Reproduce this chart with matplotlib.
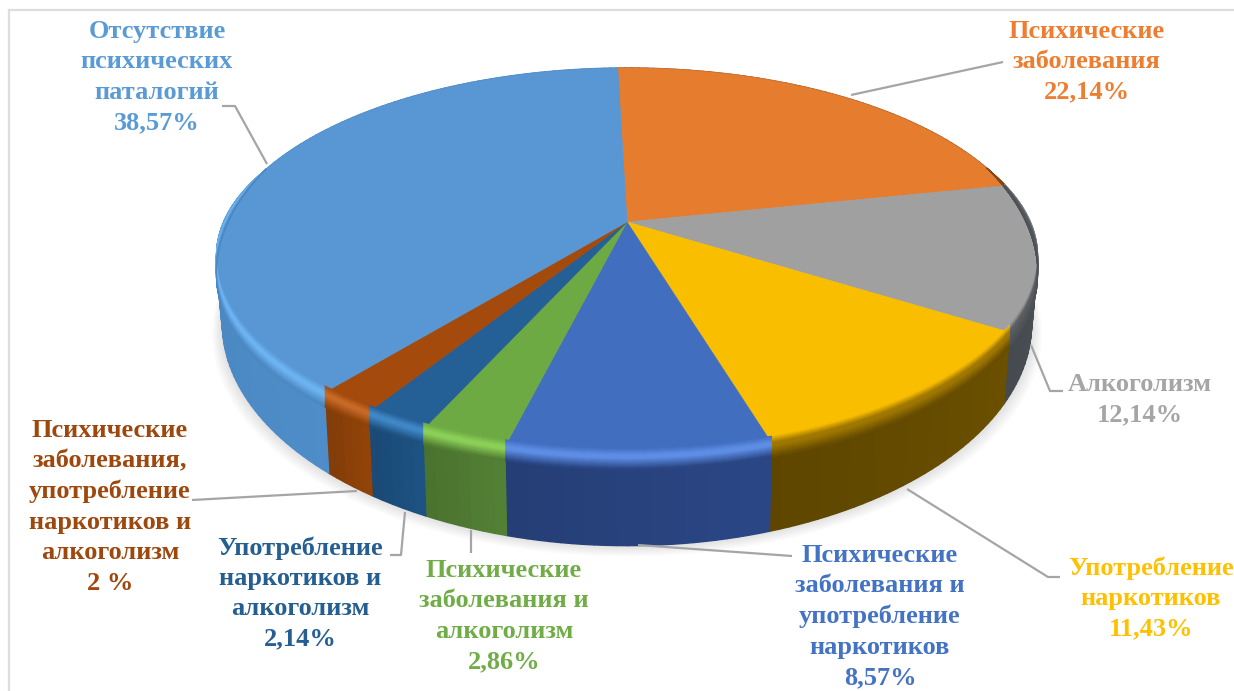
import numpy as np
import matplotlib
matplotlib.use("Agg")
import matplotlib.pyplot as plt
from matplotlib.collections import PolyCollection
from matplotlib.colors import to_rgb

# clockwise from 12 o'clock
values = [22.14, 12.14, 11.43, 8.57, 2.86, 2.14, 2.0, 38.57]
names = ["Психические\nзаболевания", "Алкоголизм", "Употребление\nнаркотиков",
         "Психические\nзаболевания и\nупотребление\nнаркотиков",
         "Психические\nзаболевания и\nалкоголизм",
         "Употребление\nнаркотиков и\nалкоголизм",
         "Психические\nзаболевания,\nупотребление\nнаркотиков и\nалкоголизм",
         "Отсутствие\nпсихических\nпаталогий"]
pct_labels = ["22,14%", "12,14%", "11,43%", "8,57%", "2,86%", "2,14%", "2 %", "38,57%"]

top_colors = ["#E67C2E", "#A0A0A0", "#FABE00", "#426EC0", "#6DAA44", "#245F96", "#A34A0C", "#5896D4"]
wall_colors = ["#8A4A1C", "#4C5157", "#664C00", "#28437F", "#4F7A32", "#1C4E7C", "#8A4008", "#4A86BF"]
rim_colors = ["#6A4020", "#5A5C60", "#A07800", "#5E8EE6", "#8CD058", "#4088C8", "#C86A28", "#6EB4F2"]
text_colors = ["#ED7D31", "#A5A5A5", "#FFC000", "#4472C4", "#70AD47", "#255E91", "#9E480E", "#5B9BD5"]

# label centre (x, y of first line) in pixels
label_pos = [(1087, 20), (1140, 373), (1151, 556), (880, 544), (504, 559), (300, 536), (110, 419), (157, 20)]
leaders = [
    [(851, 95), (1003, 62)],
    [(1031, 345), (1050, 391), (1063, 391)],
    [(907, 489), (1048, 577), (1060, 577)],
    [(638, 545), (792, 556)],
    [(471, 530), (471, 553)],
    [(405, 512), (401, 555), (390, 555)],
    [(357, 491), (192, 500)],
    [(267, 164), (235, 106), (222, 106)],
]

CX, CY = 627, 222
A, B, K = 402, 185.6, 0.205
START = -1.6


def rim(theta, r=1.0):
    # perspective view of the disc, theta in degrees clockwise from the far side
    t = np.radians(theta)
    X, Y = r * np.sin(t), r * np.cos(t)
    w = 1 + K * Y
    return CX + A * X / w, CY - B * Y / w, Y, w


def drop(x, w, amount):
    # how far a rim point moves down the wall
    return CX + (x - CX) * (1 - 0.015 * amount), 57 / w ** 2 * amount


def mix(c1, c2, t):
    return tuple(np.array(to_rgb(c1)) * (1 - t) + np.array(to_rgb(c2)) * t)


fig = plt.figure(figsize=(12.34, 6.91), dpi=100)
ax = fig.add_axes([0, 0, 1, 1])
ax.set_xlim(0, 1234)
ax.set_ylim(691, 0)
ax.axis("off")

# frame
ax.plot([9, 9], [691, 10], color="#DDDDDD", lw=1.6)
ax.plot([9, 1234], [10, 10], color="#DDDDDD", lw=1.6)

# soft shadow
all_t = np.linspace(0, 360, 361)
sx, sy, _, sw = rim(all_t)
sx, dy = drop(sx, sw, 1.0)
for grow in np.linspace(18, 2, 10):
    ax.fill(CX + (sx - CX) * (1 + grow / 700), sy + dy + grow * 0.6, color="black", alpha=0.012, lw=0)

edges = START + np.cumsum([0] + values) / sum(values) * 360

# side walls
polys, cols = [], []
for i in range(len(values)):
    th = np.linspace(edges[i], edges[i + 1], max(int(values[i] * 3), 6))
    x, y, Y, w = rim(th)
    xb, d = drop(x, w, 1.0)
    shade = np.linspace(1.05, 0.92, len(th))
    for j in range(len(th) - 1):
        polys.append([(x[j], y[j]), (x[j + 1], y[j + 1]), (xb[j + 1], y[j + 1] + d[j + 1]), (xb[j], y[j] + d[j])])
        cols.append(tuple(np.clip(np.array(to_rgb(wall_colors[i])) * shade[j], 0, 1)))
ax.add_collection(PolyCollection(polys, facecolors=cols, edgecolors="face", linewidths=1.0))

# top of the pie
for i in range(len(values)):
    th = np.linspace(edges[i], edges[i + 1], max(int(values[i] * 3), 6))
    x, y, _, _ = rim(th)
    ax.fill(np.r_[CX, x], np.r_[CY, y], color=top_colors[i], lw=0.5)

# bevel along the rim, strongest on the near side
layers = np.linspace(-7, 14, 22)
polys, cols = [], []
for i in range(len(values)):
    th = np.linspace(edges[i], edges[i + 1], max(int(values[i] * 3), 6))
    x, y, Y, w = rim(th)
    strength = np.clip((0.3 - Y) / 0.55, 0, 1)
    for a, b in zip(layers[:-1], layers[1:]):
        m = (a + b) / 2
        if m < 0:
            c = mix(top_colors[i], rim_colors[i], (m + 7) / 7)
        elif m < 3:
            c = rim_colors[i]
        else:
            c = mix(rim_colors[i], wall_colors[i], (m - 3) / 11)
        for j in range(len(th) - 1):
            if strength[j] + strength[j + 1] == 0:
                continue
            polys.append([(x[j], y[j] + a * strength[j]), (x[j + 1], y[j + 1] + a * strength[j + 1]),
                          (x[j + 1], y[j + 1] + b * strength[j + 1]), (x[j], y[j] + b * strength[j])])
            cols.append(c)
ax.add_collection(PolyCollection(polys, facecolors=cols, edgecolors="face", linewidths=0.6))

# leaders
for line in leaders:
    ax.plot(*zip(*line), color="#A5A5A5", lw=1.6, solid_capstyle="butt")

# labels
for i in range(len(values)):
    ax.text(label_pos[i][0], label_pos[i][1], names[i] + "\n" + pct_labels[i], color=text_colors[i],
            family="Liberation Serif", weight="bold", fontsize=19, ha="center", va="top",
            multialignment="center", linespacing=1.41, clip_on=True)

fig.savefig("out.png", dpi=100)
